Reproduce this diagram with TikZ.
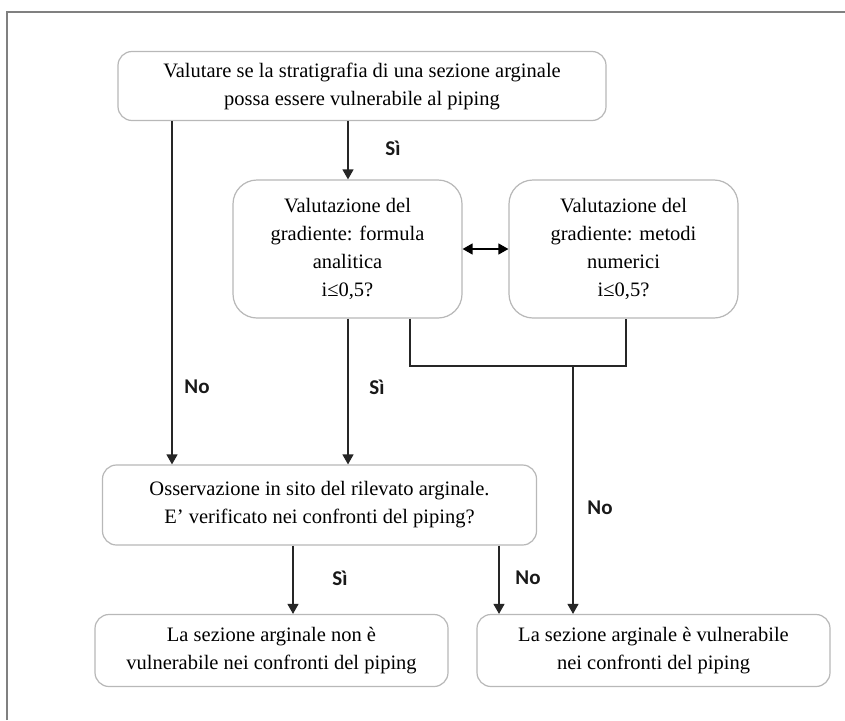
\documentclass[tikz,border=0pt]{standalone}
\usepackage{fontspec}
\setmainfont{Liberation Serif}
\newfontfamily\labfont{Carlito}
\usetikzlibrary{arrows.meta}
\begin{document}
\begin{tikzpicture}[x=1pt,y=-1pt,
  box/.style={draw=black!28,line width=1.2pt,rounded corners=14pt,align=center,
    font=\fontsize{20.5}{28}\selectfont,inner sep=0pt},
  bigbox/.style={box,rounded corners=24pt},
  arr/.style={draw=black!85,line width=1.3pt,-{Triangle[width=11pt,length=10pt]}},
  ln/.style={draw=black!85,line width=1.3pt},
  dbl/.style={draw=black,line width=1.3pt,{Triangle[width=11pt,length=10pt]}-{Triangle[width=11pt,length=10pt]}},
  lab/.style={font=\labfont\bfseries\fontsize{21}{23}\selectfont,text=black!90}]
\useasboundingbox (0,0) rectangle (845,720);
\fill[white] (0,0) rectangle (845,720);
\draw[black!50,line width=2pt] (7,720) -- (7,12) -- (845,12);

\node[box,minimum width=488pt,minimum height=69pt] (A) at (362,86)
  {Valutare se la stratigrafia di una sezione arginale\\possa essere vulnerabile al piping};
\node[bigbox,minimum width=229pt,minimum height=138pt] (B) at (347.5,249)
  {Valutazione del\\gradiente: formula\\analitica\\i≤0,5?};
\node[bigbox,minimum width=229pt,minimum height=138pt] (C) at (623.5,249)
  {Valutazione del\\gradiente: metodi\\numerici\\i≤0,5?};
\node[box,minimum width=434pt,minimum height=80pt] (D) at (319.5,505)
  {Osservazione in sito del rilevato arginale.\\E’ verificato nei confronti del piping?};
\node[box,minimum width=353pt,minimum height=72pt] (E) at (271.5,650.5)
  {La sezione arginale non è\\vulnerabile nei confronti del piping};
\node[box,minimum width=353pt,minimum height=72pt] (F) at (653.5,650.5)
  {La sezione arginale è vulnerabile\\nei confronti del piping};

\coordinate (x1) at (172,0);
\coordinate (x2) at (348,0);
\coordinate (x3) at (410,0);
\coordinate (x4) at (626,0);
\coordinate (x5) at (573,0);
\coordinate (x6) at (293,0);
\coordinate (x7) at (499,0);
\coordinate (j1) at (410,366);
\coordinate (j2) at (626,366);
\coordinate (j3) at (573,366);

\draw[arr] (A.south -| x1) -- (D.north -| x1);
\draw[arr] (A.south -| x2) -- (B.north -| x2);
\draw[arr] (B.south -| x2) -- (D.north -| x2);
\draw[ln] (B.south -| x3) -- (j1) -- (j2) -- (C.south -| x4);
\draw[arr] (j3) -- (F.north -| x5);
\draw[arr] (D.south -| x6) -- (E.north -| x6);
\draw[arr] (D.south -| x7) -- (F.north -| x7);
\draw[dbl] (B.east) -- (C.west);

\node[lab] (l1) at (393,148) {Sì};
\node[lab] (l2) at (197,387) {No};
\node[lab] (l3) at (377,387) {Sì};
\node[lab] (l4) at (600,508) {No};
\node[lab] (l5) at (340,578) {Sì};
\node[lab] (l6) at (528,578) {No};
\end{tikzpicture}
\end{document}
